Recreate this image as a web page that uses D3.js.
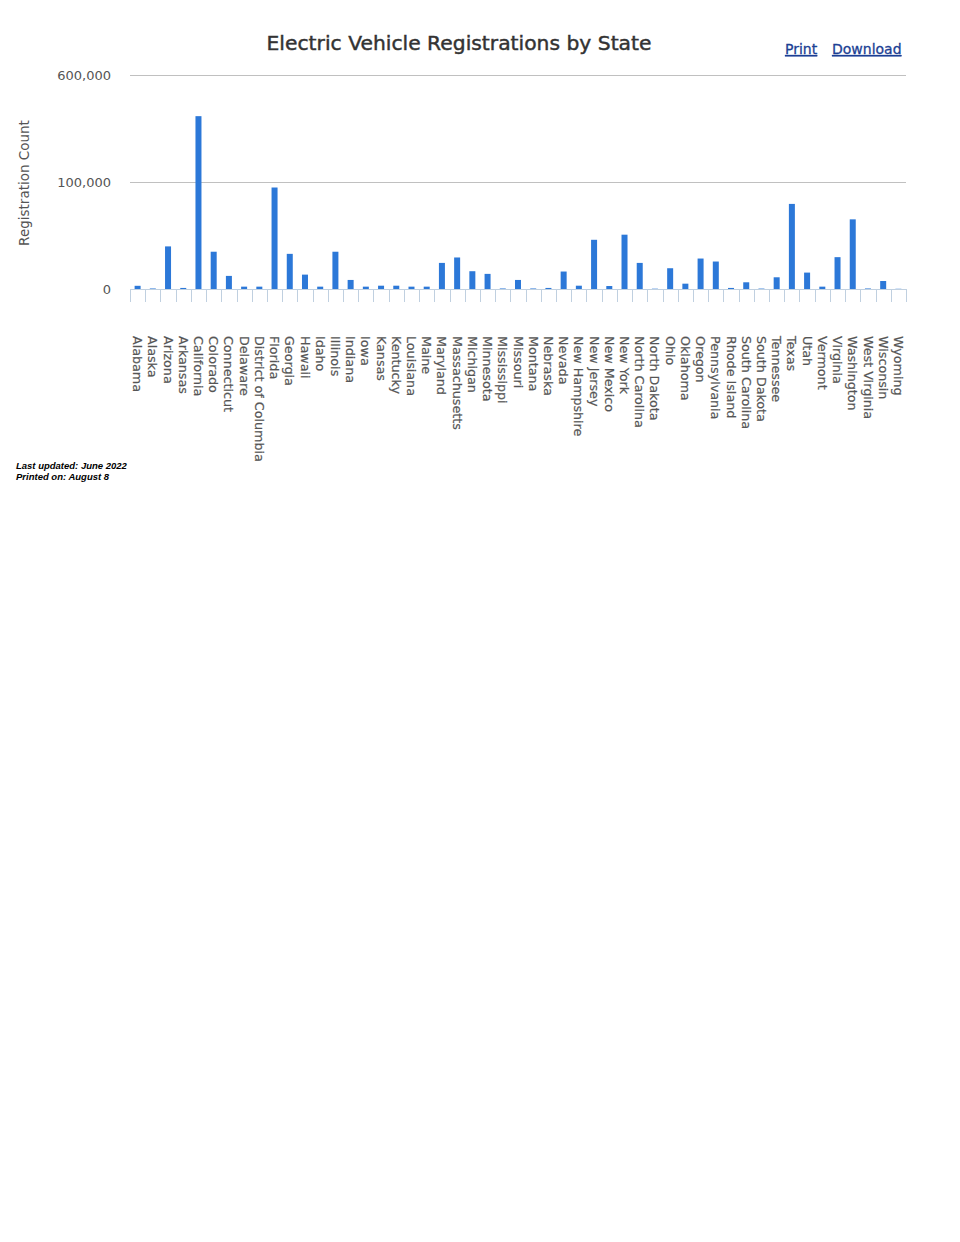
<!DOCTYPE html>
<html>
<head>
<meta charset="utf-8">
<script src="https://cdn.jsdelivr.net/npm/d3@7"></script>
<style>
  html, body { margin: 0; padding: 0; background: #fff; }
  svg { display: block; }
</style>
</head>
<body>
<svg id="chart" width="960" height="1242"></svg>
<script>
const states = ["Alabama","Alaska","Arizona","Arkansas","California","Colorado","Connecticut","Delaware","District of Columbia","Florida","Georgia","Hawaii","Idaho","Illinois","Indiana","Iowa","Kansas","Kentucky","Louisiana","Maine","Maryland","Massachusetts","Michigan","Minnesota","Mississippi","Missouri","Montana","Nebraska","Nevada","New Hampshire","New Jersey","New Mexico","New York","North Carolina","North Dakota","Ohio","Oklahoma","Oregon","Pennsylvania","Rhode Island","South Carolina","South Dakota","Tennessee","Texas","Utah","Vermont","Virginia","Washington","West Virginia","Wisconsin","Wyoming"];
const registrations = [3000,500,40000,1000,410000,35000,12300,2200,2200,95300,33000,13500,2200,35000,8500,2200,3100,3100,2200,2200,24500,29600,16700,14200,500,8500,500,1000,16400,3100,46200,2800,51000,24500,300,19500,5000,28600,25800,1000,6300,400,11000,79900,15400,2200,29900,65400,500,7500,200];
const yTickValues = [0, 100000, 600000];
const titleText = "Electric Vehicle Registrations by State";
const yAxisTitle = "Registration Count";
const footerLines = ["Last updated: June 2022", "Printed on: August 8"];

const svg = d3.select("#chart");
const font = "'DejaVu Sans', sans-serif";
const plotLeft = 130, plotRight = 906;

const x = d3.scaleBand().domain(states).range([plotLeft, plotRight]).paddingInner(0).paddingOuter(0);
const y = d3.scaleLinear().domain([0, 100000, 600000]).range([289, 182.5, 75.5]);

// title
svg.append("text").attr("x", 459).attr("y", 50).attr("text-anchor", "middle")
  .attr("font-family", font).attr("font-size", 20.3).attr("fill", "#333")
  .attr("stroke", "#333").attr("stroke-width", 0.45).text(titleText);

// links
const linkColor = "#1c3f94";
[["Print", 785], ["Download", 832]].forEach(([t, lx]) => {
  svg.append("text").attr("x", lx).attr("y", 54).attr("font-family", font).attr("font-size", 14)
    .attr("fill", linkColor).attr("stroke", linkColor).attr("stroke-width", 0.3)
    .attr("text-decoration", "underline").text(t);
});

// gridlines
svg.append("g").selectAll("line").data(yTickValues.filter(d => d > 0)).join("line")
  .attr("x1", plotLeft).attr("x2", plotRight)
  .attr("y1", d => y(d)).attr("y2", d => y(d))
  .attr("stroke", "#c0c0c0").attr("stroke-width", 1);

// y axis labels
const yAxis = d3.axisLeft(y).tickValues(yTickValues).tickSize(0).tickPadding(0)
  .tickFormat(d3.format(","));
const yg = svg.append("g").attr("transform", `translate(111,0)`).call(yAxis);
yg.select(".domain").remove();
yg.selectAll("text").attr("font-family", font).attr("font-size", 13).attr("fill", "#555");

// y axis title
svg.append("text").attr("transform", "translate(29,183) rotate(-90)").attr("text-anchor", "middle")
  .attr("font-family", font).attr("font-size", 13.5).attr("fill", "#555").text(yAxisTitle);

// bars
const barW = 6;
svg.append("g").selectAll("rect").data(states).join("rect")
  .attr("x", (d) => x(d) + x.bandwidth() / 2 - barW / 2)
  .attr("width", barW)
  .attr("y", (d, i) => y(registrations[i]))
  .attr("height", (d, i) => y(0) - y(registrations[i]))
  .attr("fill", "#2c78d8");

// x axis baseline and ticks
const xg = svg.append("g");
xg.append("line").attr("x1", plotLeft).attr("x2", plotRight).attr("y1", y(0) + 0.5).attr("y2", y(0) + 0.5)
  .attr("stroke", "#c0d0e0").attr("stroke-width", 1);
const boundaries = states.map(s => x(s)).concat([plotRight]);
xg.selectAll("line.tick").data(boundaries).join("line").attr("class", "tick")
  .attr("x1", d => Math.round(d) + 0.5).attr("x2", d => Math.round(d) + 0.5)
  .attr("y1", y(0)).attr("y2", y(0) + 13)
  .attr("stroke", "#c0d0e0").attr("stroke-width", 1);

// x labels rotated
svg.append("g").selectAll("text").data(states).join("text")
  .attr("transform", d => `translate(${x(d) + x.bandwidth() / 2},336) rotate(90)`)
  .attr("dy", "0.35em")
  .attr("text-anchor", "start")
  .attr("font-family", font).attr("font-size", 12.7).attr("fill", "#555")
  .attr("stroke", "#555").attr("stroke-width", 0.2)
  .text(d => d);

// footer
footerLines.forEach((t, i) => {
  svg.append("text").attr("x", 16).attr("y", 469 + i * 11).attr("font-family", "'Liberation Sans', sans-serif")
    .attr("font-size", 9.5).attr("font-weight", "bold").attr("font-style", "italic").attr("fill", "#000").text(t);
});
</script>
</body>
</html>
